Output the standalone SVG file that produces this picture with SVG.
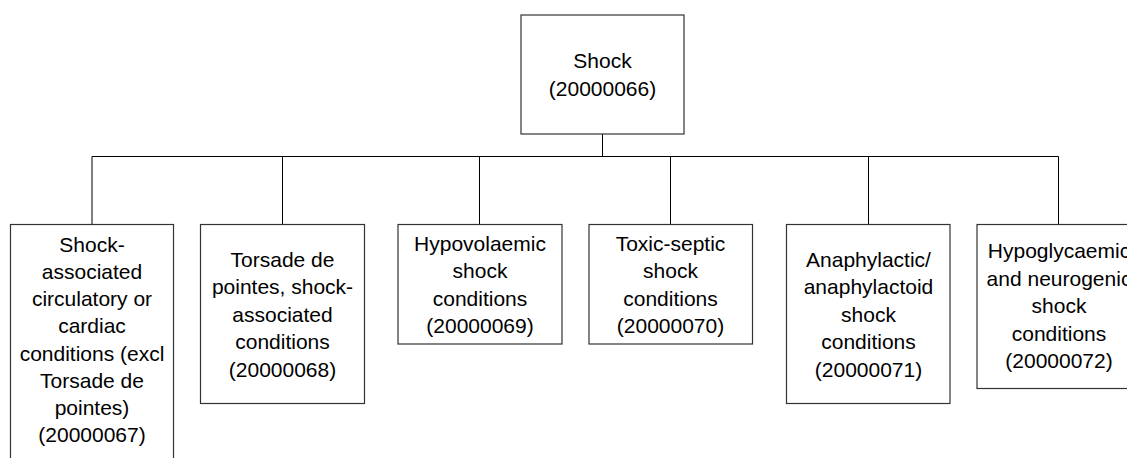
<svg xmlns="http://www.w3.org/2000/svg" width="1127" height="458" viewBox="0 0 1127 458">
<style>
.box{fill:#fff;stroke:#333;stroke-width:1.2}
.conn line{stroke:#000;stroke-width:1}
text{font-family:"Liberation Sans",Arial,sans-serif;font-size:21px;fill:#000;text-anchor:middle}
</style>
<rect width="1127" height="458" fill="#fff"/>
<g id="connectors" class="conn">
<line x1="602.5" y1="134" x2="602.5" y2="156.5"/>
<line x1="92" y1="156.5" x2="1058.5" y2="156.5"/>
<line x1="92" y1="156.5" x2="92" y2="224"/>
<line x1="282.5" y1="156.5" x2="282.5" y2="224"/>
<line x1="479.5" y1="156.5" x2="479.5" y2="224"/>
<line x1="670.5" y1="156.5" x2="670.5" y2="224"/>
<line x1="868.5" y1="156.5" x2="868.5" y2="224"/>
<line x1="1058.5" y1="156.5" x2="1058.5" y2="224"/>
</g>
<g id="n0">
<rect class="box" x="521" y="15" width="163" height="119"/>
<text x="602.5" y="68">Shock</text>
<text x="602.5" y="95.5">(20000066)</text>
</g>
<g id="n1">
<rect class="box" x="10.5" y="224.5" width="163" height="240"/>
<text x="92" y="251.7">Shock-</text>
<text x="92" y="278.9">associated</text>
<text x="92" y="306.1">circulatory or</text>
<text x="92" y="333.3">cardiac</text>
<text x="92" y="360.5">conditions (excl</text>
<text x="92" y="387.7">Torsade de</text>
<text x="92" y="414.9">pointes)</text>
<text x="92" y="442.1">(20000067)</text>
</g>
<g id="n2">
<rect class="box" x="200.5" y="224.5" width="164" height="179"/>
<text x="282.5" y="266.5">Torsade de</text>
<text x="282.5" y="294">pointes, shock-</text>
<text x="282.5" y="321.5">associated</text>
<text x="282.5" y="349">conditions</text>
<text x="282.5" y="376.5">(20000068)</text>
</g>
<g id="n3">
<rect class="box" x="398" y="224.5" width="164" height="119.5"/>
<text x="480" y="250.5">Hypovolaemic</text>
<text x="480" y="278">shock</text>
<text x="480" y="305.5">conditions</text>
<text x="480" y="333">(20000069)</text>
</g>
<g id="n4">
<rect class="box" x="589" y="224.5" width="163.5" height="119.5"/>
<text x="670.5" y="250.5">Toxic-septic</text>
<text x="670.5" y="278">shock</text>
<text x="670.5" y="305.5">conditions</text>
<text x="670.5" y="333">(20000070)</text>
</g>
<g id="n5">
<rect class="box" x="786.5" y="224.5" width="163.5" height="179"/>
<text x="868.5" y="266.5">Anaphylactic/</text>
<text x="868.5" y="294">anaphylactoid</text>
<text x="868.5" y="321.5">shock</text>
<text x="868.5" y="349">conditions</text>
<text x="868.5" y="376.5">(20000071)</text>
</g>
<g id="n6">
<rect class="box" x="977" y="224.5" width="164" height="164"/>
<text x="1059" y="258.4">Hypoglycaemic</text>
<text x="1059" y="285.9">and neurogenic</text>
<text x="1059" y="313.4">shock</text>
<text x="1059" y="340.9">conditions</text>
<text x="1059" y="368.4">(20000072)</text>
</g>
</svg>
